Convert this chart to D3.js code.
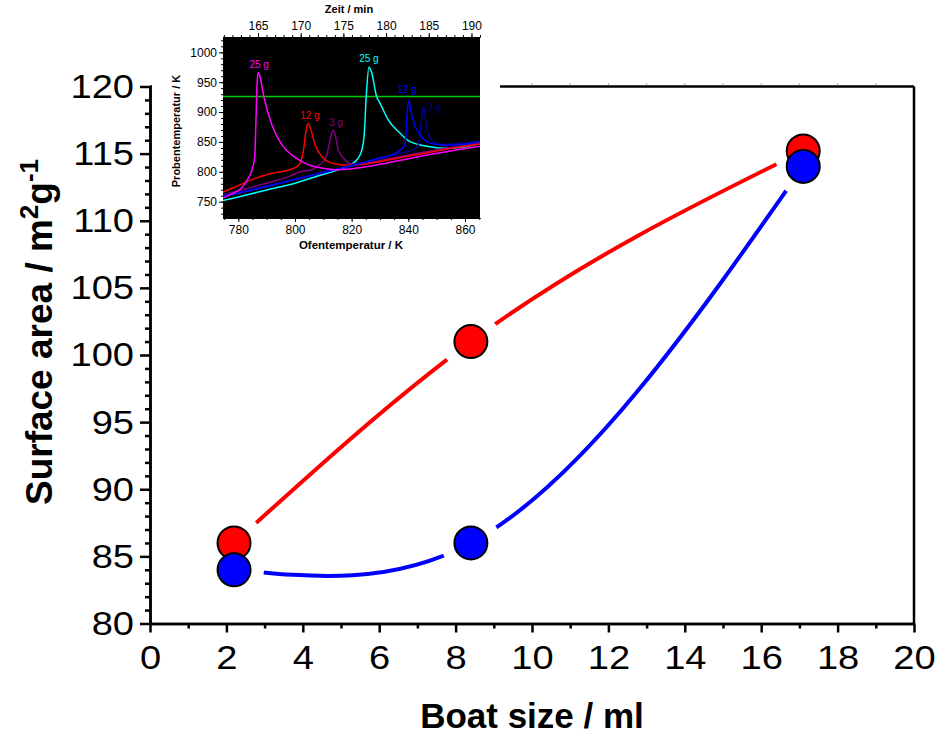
<!DOCTYPE html>
<html>
<head>
<meta charset="utf-8">
<script src="https://cdn.jsdelivr.net/npm/d3@7"></script>
<style>
  body { margin: 0; background: #fff; }
  svg { display: block; font-family: "Liberation Sans", Arial, Helvetica, sans-serif; }
</style>
</head>
<body>
<svg id="chart" width="937" height="735"></svg>
<script>
// ---- main chart data ----
const boatSize = [2.2, 8.4, 17.1];          // ml
const areaRed  = [86, 101, 115.2];          // m^2/g
const areaBlue = [84, 86, 114.05];          // m^2/g
const xMajorTicks = [0, 2, 4, 6, 8, 10, 12, 14, 16, 18, 20];
const yMajorTicks = [80, 85, 90, 95, 100, 105, 110, 115, 120];

// ---- inset data: sample temperature vs. furnace temperature ----
const furnaceTicks = [780, 800, 820, 840, 860];
const sampleTicks  = [750, 800, 850, 900, 950, 1000];
const timeTicks    = [165, 170, 175, 180, 185, 190];
const limitTemp    = 926;

const run25a = [[774.6,756],[778,764],[781,772],[783.5,789],[785,806],[785.8,825],[786.2,880],[786.6,945],[787,966],[787.6,960],[789,926],[791.9,878],[795.4,845],[799,828],[802.5,817],[805.3,811],[810,806],[814.7,803.5],[820,805],[830,812.5],[840,822],[850,831],[865.3,843]];
const run12a = [[774.6,766],[779,775],[786,789],[791.9,797.5],[797.8,803],[801.3,811],[802.5,824],[803.1,839],[803.8,865],[804.6,881],[805.5,872],[807.1,845],[810,823],[813.5,814],[818.3,811],[825,813],[830,817],[840,826],[850,835],[865.3,846.5]];
const run3a  = [[774.6,762],[780,768],[786,776],[791.9,783.5],[797.8,792],[801.7,800],[806,803.5],[807.6,808.6],[810,817],[811.2,828],[812.3,850],[813.5,870],[814.3,860],[815.3,836.5],[817.7,820],[819.4,814],[822,812],[830,819],[840,828],[850,837],[865.3,848]];
const run25b = [[774.6,752],[780,758],[790,769.5],[800,781],[810,796],[815,803],[819.4,811],[822,821],[823.5,835],[824.4,860],[825.2,930],[826.1,975],[827,967],[828.8,926],[830,915],[832.9,887],[837.1,864.5],[840.6,850.5],[847.6,842],[853.5,839.3],[860,842],[865.3,847.5]];
const run12b = [[774.6,759],[780,764],[790,775],[800,787],[810,798.5],[820,810],[830,823.5],[835,830],[837.1,836.5],[838.8,845],[839.3,870],[839.7,905],[840.2,919],[840.8,905],[841.8,884],[844.1,862],[847.6,848],[853.5,844],[858,845.5],[865.3,850.5]];
const run3b  = [[774.6,761],[780,766],[790,776.5],[800,788],[810,800],[820,811],[830,822],[838,832],[841.8,837],[843.5,845],[844.3,870],[844.8,895],[845.3,909],[845.9,895],[846.5,873],[848.2,853],[851.2,846],[856,846.5],[865.3,851]];

// Natural cubic spline of y as a function of x, emitted as exact Bezier segments.
function curveNaturalX(context) {
  let pts = [];
  return {
    areaStart() {}, areaEnd() {},
    lineStart() { pts = []; },
    point(px, py) { pts.push([+px, +py]); },
    lineEnd() {
      const n = pts.length;
      if (!n) return;
      context.moveTo(pts[0][0], pts[0][1]);
      if (n < 3) { pts.slice(1).forEach(p => context.lineTo(p[0], p[1])); return; }
      const h = [], s = [];
      for (let i = 0; i < n - 1; i++) {
        h.push(pts[i + 1][0] - pts[i][0]);
        s.push((pts[i + 1][1] - pts[i][1]) / h[i]);
      }
      // tridiagonal system for second derivatives (natural ends: M0 = Mn-1 = 0)
      const M = new Array(n).fill(0);
      const a = [], b = [], c = [], d = [];
      for (let i = 1; i < n - 1; i++) {
        a.push(h[i - 1]); b.push(2 * (h[i - 1] + h[i])); c.push(h[i]); d.push(6 * (s[i] - s[i - 1]));
      }
      const m = b.length;
      for (let i = 1; i < m; i++) {
        const w = a[i] / b[i - 1];
        b[i] -= w * c[i - 1]; d[i] -= w * d[i - 1];
      }
      const sol = new Array(m);
      for (let i = m - 1; i >= 0; i--) sol[i] = (d[i] - (i < m - 1 ? c[i] * sol[i + 1] : 0)) / b[i];
      for (let i = 0; i < m; i++) M[i + 1] = sol[i];
      for (let i = 0; i < n - 1; i++) {
        const d0 = s[i] - h[i] * (2 * M[i] + M[i + 1]) / 6;
        const d1 = s[i] + h[i] * (M[i] + 2 * M[i + 1]) / 6;
        const [x0, y0] = pts[i], [x1, y1] = pts[i + 1];
        context.bezierCurveTo(x0 + h[i] / 3, y0 + d0 * h[i] / 3, x1 - h[i] / 3, y1 - d1 * h[i] / 3, x1, y1);
      }
    }
  };
}

const svg = d3.select("#chart");

// ================= main plot =================
const x = d3.scaleLinear().domain([0, 20]).range([150, 914]);
const y = d3.scaleLinear().domain([80, 120]).range([623.5, 86.5]);
const axisW = 2.5;

// frame: top and right
svg.append("line").attr("x1", x(0)).attr("x2", x(20)).attr("y1", y(120)).attr("y2", y(120))
  .attr("stroke", "#000").attr("stroke-width", axisW);
svg.append("line").attr("x1", x(20)).attr("x2", x(20)).attr("y1", y(120)).attr("y2", y(80))
  .attr("stroke", "#000").attr("stroke-width", axisW);
// faint top minor ticks
svg.append("g").selectAll("line").data(d3.range(1, 20)).join("line")
  .attr("x1", d => x(d)).attr("x2", d => x(d)).attr("y1", y(120) - 1).attr("y2", y(120) - 3)
  .attr("stroke", "#888").attr("stroke-width", 1);

function styleAxis(g, fontSize) {
  g.selectAll(".domain").attr("stroke", "#000").attr("stroke-width", axisW);
  g.selectAll(".tick line").attr("stroke", "#000").attr("stroke-width", axisW);
  g.selectAll(".tick text").attr("fill", "#000").attr("font-size", fontSize)
    .attr("font-family", "Liberation Sans, Arial, sans-serif")
    .each(function () {
      // slightly wide digits
      const w = this.getComputedTextLength();
      if (w > 0) d3.select(this).attr("textLength", w * 1.12).attr("lengthAdjust", "spacingAndGlyphs");
    });
}

// x axis: minor then major
const gxMinor = svg.append("g").attr("transform", `translate(0,${y(80)})`)
  .call(d3.axisBottom(x).tickValues(d3.range(1, 20, 2)).tickSize(5).tickSizeOuter(0).tickFormat(""));
styleAxis(gxMinor, 0);
const gx = svg.append("g").attr("transform", `translate(0,${y(80)})`)
  .call(d3.axisBottom(x).tickValues(xMajorTicks).tickSize(9).tickSizeOuter(0).tickPadding(12).tickFormat(d3.format("d")));
styleAxis(gx, 34);

// y axis: minor then major
const gyMinor = svg.append("g").attr("transform", `translate(${x(0)},0)`)
  .call(d3.axisLeft(y).tickValues(d3.range(80, 121, 1).filter(v => v % 5 !== 0)).tickSize(5).tickSizeOuter(0).tickFormat(""));
styleAxis(gyMinor, 0);
const gy = svg.append("g").attr("transform", `translate(${x(0)},0)`)
  .call(d3.axisLeft(y).tickValues(yMajorTicks).tickSize(10).tickSizeOuter(0).tickPadding(6).tickFormat(d3.format("d")));
styleAxis(gy, 34);

// axis titles
svg.append("text").attr("x", 532).attr("y", 728).attr("text-anchor", "middle")
  .attr("font-size", 35).attr("font-weight", "bold").text("Boat size / ml");
const yt = svg.append("text").attr("transform", "translate(52,332) rotate(-90)")
  .attr("text-anchor", "middle").attr("font-size", 37).attr("font-weight", "bold");
yt.append("tspan").text("Surface area / m");
yt.append("tspan").attr("dy", -14).attr("font-size", 26).text("2");
yt.append("tspan").attr("dy", 14).text("g");
yt.append("tspan").attr("dy", -14).attr("font-size", 26).text("-1");

// series: spline lines with gaps around the markers
const series = [
  { name: "red",  color: "#ff0000", values: areaRed },
  { name: "blue", color: "#0000ff", values: areaBlue }
];
const defs = svg.append("defs");
const line = d3.line().x(d => x(d[0])).y(d => y(d[1])).curve(curveNaturalX);

series.forEach(s => {
  const pts = boatSize.map((b, i) => [b, s.values[i]]);
  const mask = defs.append("mask").attr("id", "gap-" + s.name).attr("maskUnits", "userSpaceOnUse")
    .attr("x", 0).attr("y", 0).attr("width", 937).attr("height", 735);
  mask.append("rect").attr("width", 937).attr("height", 735).attr("fill", "#fff");
  mask.selectAll("circle").data(pts).join("circle")
    .attr("cx", d => x(d[0])).attr("cy", d => y(d[1])).attr("r", 30).attr("fill", "#000");
  svg.append("path").datum(pts).attr("d", line).attr("fill", "none")
    .attr("stroke", s.color).attr("stroke-width", 4).attr("mask", `url(#gap-${s.name})`);
});
series.forEach(s => {
  const pts = boatSize.map((b, i) => [b, s.values[i]]);
  svg.append("g").selectAll("circle").data(pts).join("circle")
    .attr("cx", d => x(d[0])).attr("cy", d => y(d[1])).attr("r", 16.5)
    .attr("fill", s.color).attr("stroke", "#000").attr("stroke-width", 2);
});

// ================= inset =================
const inset = svg.append("g");
inset.append("rect").attr("x", 152).attr("y", 0).attr("width", 348).attr("height", 258).attr("fill", "#fff");

const ix = d3.scaleLinear().domain([774.6, 865.3]).range([223, 480]);
const it = d3.scaleLinear().domain([160.9, 191.0]).range([223, 480]);
const iy = d3.scaleLinear().domain([722.7, 1025.6]).range([218, 37]);

inset.append("rect").attr("x", 223).attr("y", 37).attr("width", 257).attr("height", 181).attr("fill", "#000");

function styleInsetAxis(g) {
  g.selectAll(".domain").attr("stroke", "#000").attr("stroke-width", 1);
  g.selectAll(".tick line").attr("stroke", "#000").attr("stroke-width", 1);
  g.selectAll(".tick text").attr("fill", "#000").attr("font-size", 12)
    .attr("font-family", "Liberation Sans, Arial, sans-serif");
}

// bottom (furnace temperature)
styleInsetAxis(inset.append("g").attr("transform", "translate(0,218)")
  .call(d3.axisBottom(ix).tickValues(d3.range(775, 866, 5)).tickSize(2).tickSizeOuter(0).tickFormat("")));
styleInsetAxis(inset.append("g").attr("transform", "translate(0,218)")
  .call(d3.axisBottom(ix).tickValues(furnaceTicks).tickSize(4).tickSizeOuter(0).tickPadding(3).tickFormat(d3.format("d"))));
// left (sample temperature)
styleInsetAxis(inset.append("g").attr("transform", "translate(223,0)")
  .call(d3.axisLeft(iy).tickValues(d3.range(730, 1021, 10)).tickSize(2).tickSizeOuter(0).tickFormat("")));
styleInsetAxis(inset.append("g").attr("transform", "translate(223,0)")
  .call(d3.axisLeft(iy).tickValues(sampleTicks).tickSize(4).tickSizeOuter(0).tickPadding(2).tickFormat(d3.format("d"))));
// top (time)
styleInsetAxis(inset.append("g").attr("transform", "translate(0,37)")
  .call(d3.axisTop(it).tickValues(d3.range(161, 192, 1)).tickSize(2).tickSizeOuter(0).tickFormat("")));
styleInsetAxis(inset.append("g").attr("transform", "translate(0,37)")
  .call(d3.axisTop(it).tickValues(timeTicks).tickSize(4).tickSizeOuter(0).tickPadding(3).tickFormat(d3.format("d"))));

inset.append("text").attr("x", 351).attr("y", 249).attr("text-anchor", "middle")
  .attr("font-size", 11.5).attr("font-weight", "bold").text("Ofentemperatur / K");
inset.append("text").attr("x", 349).attr("y", 13).attr("text-anchor", "middle")
  .attr("font-size", 11).attr("font-weight", "bold").text("Zeit / min");
inset.append("text").attr("transform", "translate(180,131) rotate(-90)").attr("text-anchor", "middle")
  .attr("font-size", 11).attr("font-weight", "bold").text("Probentemperatur / K");

// curves, clipped to the plot area
defs.append("clipPath").attr("id", "inset-clip").append("rect")
  .attr("x", 223).attr("y", 37).attr("width", 257).attr("height", 181);
const plot = inset.append("g").attr("clip-path", "url(#inset-clip)");

plot.append("line").attr("x1", 223).attr("x2", 480).attr("y1", iy(limitTemp)).attr("y2", iy(limitTemp))
  .attr("stroke", "#00cc00").attr("stroke-width", 1.6);

const runs = [
  { data: run25b, color: "#00ffff", label: "25 g", dx: 0,  dy: -5 },
  { data: run3a,  color: "#800080", label: "3 g",  dx: 3,  dy: -4 },
  { data: run12a, color: "#ff0000", label: "12 g", dx: 2,  dy: -4 },
  { data: run3b,  color: "#00008b", label: "3 g",  dx: 11, dy: 4 },
  { data: run12b, color: "#0000ff", label: "12 g", dx: -2, dy: -8 },
  { data: run25a, color: "#ff00ff", label: "25 g", dx: 1,  dy: -5 }
];
const iline = d3.line().x(d => ix(d[0])).y(d => iy(d[1])).curve(d3.curveMonotoneX);
runs.forEach(r => {
  plot.append("path").datum(r.data).attr("d", iline).attr("fill", "none")
    .attr("stroke", r.color).attr("stroke-width", 1.5);
});
runs.forEach(r => {
  const peak = r.data.reduce((a, b) => (b[1] > a[1] ? b : a));
  inset.append("text").attr("x", ix(peak[0]) + r.dx).attr("y", iy(peak[1]) + r.dy)
    .attr("text-anchor", "middle").attr("font-size", 10).attr("fill", r.color).text(r.label);
});
</script>
</body>
</html>
